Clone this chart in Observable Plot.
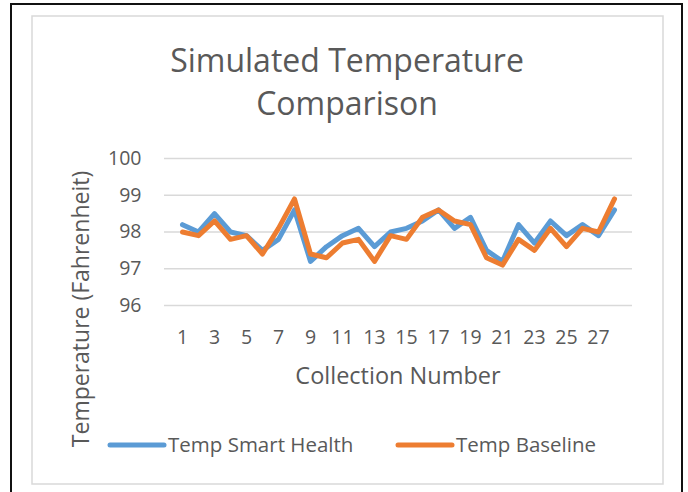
<!DOCTYPE html>
<html><head><meta charset="utf-8">
<script src="https://cdn.jsdelivr.net/npm/d3@7"></script>
<script src="https://cdn.jsdelivr.net/npm/@observablehq/plot@0.6"></script>
<style>
html,body{margin:0;padding:0;background:#fff;}
#wrap{width:688px;height:492px;overflow:hidden;}
</style></head><body><div id="wrap"></div>
<script>
const collection = [1,2,3,4,5,6,7,8,9,10,11,12,13,14,15,16,17,18,19,20,21,22,23,24,25,26,27,28];
const tempSmartHealth = [98.2,98.0,98.5,98.0,97.9,97.5,97.8,98.6,97.2,97.6,97.9,98.1,97.6,98.0,98.1,98.3,98.6,98.1,98.4,97.5,97.2,98.2,97.7,98.3,97.9,98.2,97.9,98.6];
const tempBaseline    = [98.0,97.9,98.3,97.8,97.9,97.4,98.1,98.9,97.4,97.3,97.7,97.8,97.2,97.9,97.8,98.4,98.6,98.3,98.2,97.3,97.1,97.8,97.5,98.1,97.6,98.1,98.0,98.9];
const xTickLabels = [1,3,5,7,9,11,13,15,17,19,21,23,25,27];
const yTickLabels = [96,97,98,99,100];
const seriesNames = ["Temp Smart Health","Temp Baseline"];
const seriesColors = ["#5B9BD5","#ED7D31"];
const titleLines = ["Simulated Temperature","Comparison"];
const xTitle = "Collection Number";
const yTitle = "Temperature (Fahrenheit)";

const rows = collection.map((c,i)=>({c, smart:tempSmartHealth[i], base:tempBaseline[i]}));
const font = "'Open Sans', sans-serif";
const textColor = "#595959";

const chart = Plot.plot({
  width:688, height:492,
  marginLeft:164, marginRight:56, marginTop:158, marginBottom:187,
  style:{fontFamily:font, color:textColor, background:"#fff", overflow:"visible"},
  x:{type:"point", domain:collection, padding:0.5, label:null},
  y:{domain:[96,100], label:null},
  marks:[
    Plot.gridY(yTickLabels,{stroke:"#d9d9d9", strokeOpacity:1, strokeWidth:1.3}),
    Plot.axisY(yTickLabels,{tickSize:0, tickPadding:23, fontSize:19.5, label:null}),
    Plot.axisX(xTickLabels,{tickSize:0, tickPadding:25, fontSize:19.5, label:null}),
    Plot.line(rows,{x:"c", y:"smart", stroke:seriesColors[0], strokeWidth:5, strokeLinejoin:"round", strokeLinecap:"round"}),
    Plot.line(rows,{x:"c", y:"base", stroke:seriesColors[1], strokeWidth:5, strokeLinejoin:"round", strokeLinecap:"round"})
  ]
});
document.getElementById("wrap").appendChild(chart);

const svg = d3.select(chart);
// frames
svg.insert("rect",":first-child").attr("x",11).attr("y",4).attr("width",671).attr("height",500)
  .attr("fill","none").attr("stroke","#111").attr("stroke-width",2);
svg.insert("rect",":first-child").attr("x",32).attr("y",16).attr("width",631).attr("height",468)
  .attr("fill","none").attr("stroke","#d9d9d9").attr("stroke-width",1.5);

const t = svg.append("g").attr("font-family",font).attr("fill",textColor);
t.append("text").attr("x",347).attr("y",72).attr("text-anchor","middle").attr("font-size",32).text(titleLines[0]);
t.append("text").attr("x",347).attr("y",115).attr("text-anchor","middle").attr("font-size",32).text(titleLines[1]);
t.append("text").attr("x",398).attr("y",384).attr("text-anchor","middle").attr("font-size",23.5).text(xTitle);
t.append("text").attr("transform","translate(89,309) rotate(-90)").attr("text-anchor","middle").attr("font-size",23).text(yTitle);

// legend
const legendX = [108,396];
seriesNames.forEach((name,i)=>{
  const g = svg.append("g");
  g.append("line").attr("x1",legendX[i]+2).attr("x2",legendX[i]+56).attr("y1",445).attr("y2",445)
    .attr("stroke",seriesColors[i]).attr("stroke-width",5).attr("stroke-linecap","round");
  g.append("text").attr("x",legendX[i]+60).attr("y",452).attr("text-anchor","start").attr("font-family",font).attr("font-size",20.5)
    .attr("fill",textColor).text(name);
});
</script>
</body></html>
